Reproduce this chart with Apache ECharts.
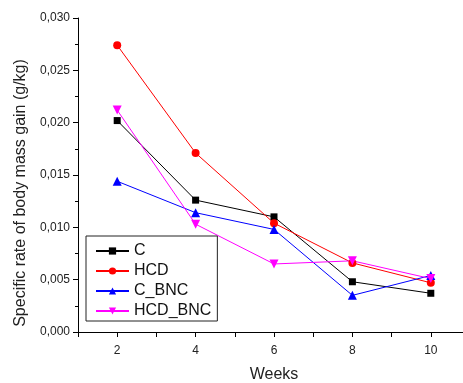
<!DOCTYPE html>
<html>
<head>
<meta charset="utf-8">
<script src="https://cdn.jsdelivr.net/npm/echarts@6/dist/echarts.min.js"></script>
<style>
  html, body { margin: 0; padding: 0; background: #fff; }
  #chart { width: 463px; height: 383px; }
</style>
</head>
<body>
<div id="chart"></div>
<script>
const weeks = [2, 4, 6, 8, 10]
const seriesNames = ['C', 'HCD', 'C_BNC', 'HCD_BNC']
const valC = [0.0202, 0.0126, 0.0110, 0.0048, 0.0037]
const valHCD = [0.0274, 0.0171, 0.0104, 0.0066, 0.0047]
const valCBNC = [0.0144, 0.0114, 0.0098, 0.0035, 0.0054]
const valHCDBNC = [0.0212, 0.0103, 0.0065, 0.0068, 0.0051]

const font = 'Arial, "Liberation Sans", sans-serif'
const colors = ['#000000', '#ff0000', '#0000ff', '#ff00ff']
const symbols = ['rect', 'circle', 'triangle', 'triangle']
const sizes = [7, 8, 9, 9]
const rotates = [0, 0, 0, 180]
const allValues = [valC, valHCD, valCBNC, valHCDBNC]

const chart = echarts.init(document.getElementById('chart'))

const series = seriesNames.map((name, i) => ({
  name: name,
  type: 'line',
  data: weeks.map((w, j) => [w, allValues[i][j]]),
  symbol: symbols[i],
  symbolSize: sizes[i],
  symbolRotate: rotates[i],
  showAllSymbol: true,
  lineStyle: { color: colors[i], width: 1 },
  itemStyle: { color: colors[i] },
  animation: false
}))

const option = {
  backgroundColor: '#fff',
  textStyle: { fontFamily: font },
  // axis runs past the right edge, as in the original crop
  grid: { left: 78, top: 18, width: 392, height: 314, containLabel: false, outerBoundsMode: 'none' },
  legend: {
    data: seriesNames,
    orient: 'vertical',
    left: 86,
    top: 236,
    backgroundColor: '#fff',
    borderColor: '#222',
    borderWidth: 1,
    padding: [6, 6, 1, 9],
    itemGap: 2,
    itemWidth: 33,
    itemHeight: 9,
    textStyle: { fontSize: 16, lineHeight: 18, color: '#111', fontFamily: font }
  },
  xAxis: {
    type: 'value',
    min: 1,
    max: 11,
    interval: 1,
    name: 'Weeks',
    nameLocation: 'middle',
    nameGap: 35,
    nameTextStyle: { fontSize: 16, color: '#222', fontFamily: font },
    axisLine: { lineStyle: { color: '#000', width: 1 } },
    axisTick: { show: true, length: 5, inside: false, lineStyle: { color: '#000' } },
    axisLabel: {
      fontSize: 12,
      color: '#222',
      margin: 13,
      fontFamily: font,
      formatter: v => (v % 2 === 0 ? String(v) : '')
    },
    splitLine: { show: false }
  },
  yAxis: {
    type: 'value',
    min: 0,
    max: 0.03,
    interval: 0.005,
    name: 'Specific rate of body mass gain (g/kg)',
    nameLocation: 'middle',
    nameGap: 48,
    nameTextStyle: { fontSize: 16, color: '#222', fontFamily: font, padding: [0, 36, 0, 0] },
    axisLine: { show: true, lineStyle: { color: '#000', width: 1 } },
    axisTick: { show: true, length: 5, lineStyle: { color: '#000' } },
    minorTick: { show: true, splitNumber: 2, length: 3, lineStyle: { color: '#000' } },
    axisLabel: {
      fontSize: 12,
      color: '#222',
      margin: 8,
      fontFamily: font,
      formatter: v => v.toFixed(3).replace('.', ',')
    },
    splitLine: { show: false }
  },
  series: series
}

chart.setOption(option)
</script>
</body>
</html>
